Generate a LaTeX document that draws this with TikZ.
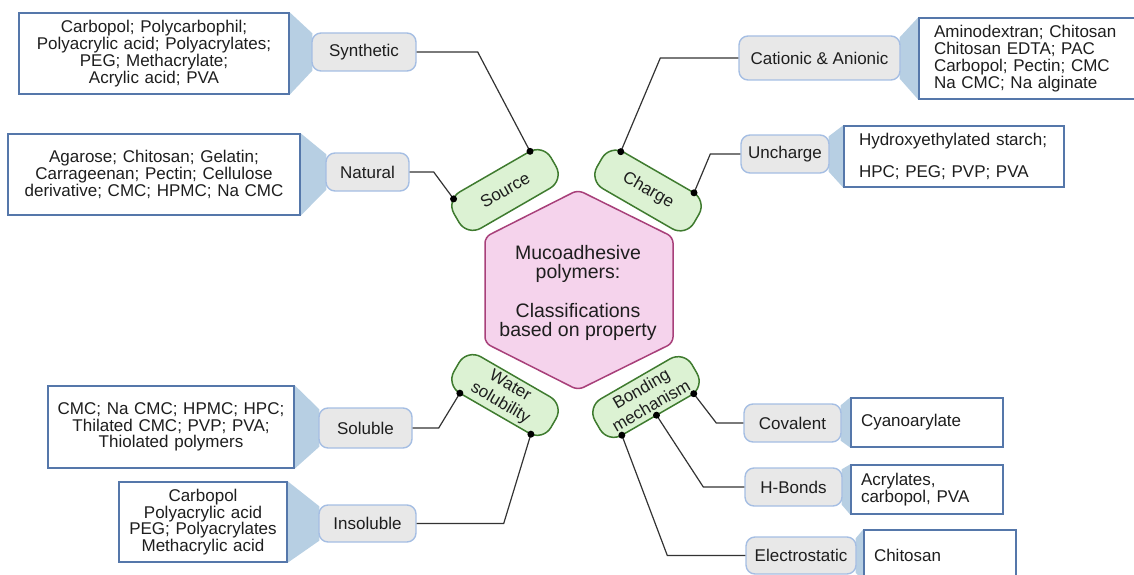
\documentclass[tikz,border=0pt]{standalone}
\usepackage{fontspec}
\setmainfont{Liberation Sans}
\usetikzlibrary{calc,backgrounds}
\definecolor{boxblue}{HTML}{5577AA}
\definecolor{calloutc}{HTML}{B7CFE3}
\definecolor{grayfill}{HTML}{E8E8E8}
\definecolor{grayedge}{HTML}{A5BEE3}
\definecolor{pillfill}{HTML}{DCF2D3}
\definecolor{pilledge}{HTML}{3F7B2F}
\definecolor{hexfill}{HTML}{F5D3EC}
\definecolor{hexedge}{HTML}{A8407A}
\definecolor{linec}{HTML}{333333}
\definecolor{textc}{HTML}{1E1E1E}
\newcommand\lstfont{\fontsize{17}{16.8}\selectfont}
\tikzset{
 every node/.style={text=textc},
 listbox/.style={draw=boxblue, fill=white, line width=1.4pt, inner ysep=0pt, font=\lstfont},
 catbox/.style={draw=grayedge, fill=grayfill, line width=1.4pt, rounded corners=9pt, inner sep=0pt, font=\lstfont},
 pill/.style={draw=pilledge, fill=pillfill, line width=1.5pt, rounded corners=16pt, minimum width=112pt, minimum height=42pt, inner sep=0pt, align=center, font=\fontsize{17}{19.5}\selectfont, transform shape},
 link/.style={draw=linec, line width=1.2pt},
 dot/.style={fill=black, circle, inner sep=0pt, minimum size=7pt},
 callout/.style={fill=calloutc}
}
\begin{document}
\begin{tikzpicture}[x=1pt,y=1pt]
\useasboundingbox (0,0) rectangle (1134,-575);

% hexagon
\draw[fill=hexfill, draw=hexedge, line width=1.5pt, rounded corners=6pt]
  (578,-190) -- (673,-237) -- (673,-343) -- (578,-390) -- (485,-343) -- (485,-237) -- cycle;
\node[align=center, font=\fontsize{19.5}{18.5}\selectfont] (hex) at (578,-293)
  {Mucoadhesive\\polymers:\\[21pt]Classifications\\based on property};

% pills
\begin{scope}[shift={(505,-190)}, rotate=30]
 \node[pill] (src) at (0,0) {Source};
 \coordinate (srcA) at (41,21);
 \coordinate (srcB) at (-49,18);
\end{scope}
\begin{scope}[shift={(648,-190.5)}, rotate=-30]
 \node[pill] (chg) at (0,0) {Charge};
 \coordinate (chgA) at (-43,20);
 \coordinate (chgB) at (41,21);
\end{scope}
\begin{scope}[shift={(505,-395)}, rotate=-30]
 \node[pill] (wat) at (0,0) {Water\\solubility};
 \coordinate (watA) at (-40,-21);
 \coordinate (watB) at (42,-21);
\end{scope}
\begin{scope}[shift={(646,-397)}, rotate=30]
 \node[pill] (bnd) at (0,0) {Bonding\\mechanism};
 \coordinate (bndA) at (43,-21);
 \coordinate (bndB) at (0,-21);
 \coordinate (bndC) at (-40,-21);
\end{scope}

% category boxes
\node[catbox, minimum width=104pt, minimum height=38pt] (syn) at (364,-52) {Synthetic};
\node[catbox, minimum width=83pt, minimum height=38pt] (nat) at (367.5,-172) {Natural};
\node[catbox, minimum width=161pt, minimum height=44pt] (cat) at (819.5,-58) {Cationic \& Anionic};
\node[catbox, minimum width=88pt, minimum height=38pt] (unc) at (785,-154) {Uncharge};
\node[catbox, minimum width=93pt, minimum height=40pt] (sol) at (365.5,-428) {Soluble};
\node[catbox, minimum width=97pt, minimum height=37pt] (ins) at (367.5,-523.5) {Insoluble};
\node[catbox, minimum width=97pt, minimum height=38pt] (cov) at (792.5,-423) {Covalent};
\node[catbox, minimum width=97pt, minimum height=38pt] (hb) at (793.5,-487) {H-Bonds};
\node[catbox, minimum width=110pt, minimum height=37pt] (ele) at (801,-555.5) {Electrostatic};

% list boxes
\node[listbox, inner xsep=4pt, text width=262pt, minimum height=81pt, align=center] (synL) at (154,-53.5)
  {Carbopol; Polycarbophil;\\Polyacrylic acid; Polyacrylates;\\PEG; Methacrylate;\\Acrylic acid; PVA};
\node[listbox, inner xsep=4pt, text width=284pt, minimum height=81pt, align=center] (natL) at (154,-174.5)
  {Agarose; Chitosan; Gelatin;\\Carrageenan; Pectin; Cellulose\\derivative; CMC; HPMC; Na CMC};
\node[listbox, inner xsep=4pt, text width=238pt, minimum height=82pt, align=center] (solL) at (171,-427)
  {\mbox{CMC; Na CMC; HPMC; HPC;}\\\mbox{Thilated CMC; PVP; PVA;}\\Thiolated polymers};
\node[listbox, inner xsep=4pt, text width=160pt, minimum height=80pt, align=center] (insL) at (203,-522)
  {Carbopol\\Polyacrylic acid\\\mbox{PEG; Polyacrylates}\\Methacrylic acid};
\node[listbox, inner xsep=15pt, text width=196pt, minimum height=81pt, align=left] (catL) at (1032,-58.5)
  {\mbox{Aminodextran; Chitosan}\\Chitosan EDTA; PAC\\Carbopol; Pectin; CMC\\Na CMC; Na alginate};
\node[listbox, inner xsep=15pt, text width=190pt, minimum height=61pt, align=left] (uncL) at (954,-156.5)
  {\mbox{Hydroxyethylated starch;}\\[16pt]HPC; PEG; PVP; PVA};
\node[listbox, inner xsep=10pt, text width=132pt, minimum height=49pt, align=left] (covL) at (927,-422.5)
  {Cyanoarylate};
\node[listbox, inner xsep=10pt, text width=132pt, minimum height=49pt, align=left] (hbL) at (927,-489.5)
  {Acrylates,\\carbopol, PVA};
\node[listbox, inner xsep=10pt, text width=132pt, minimum height=50pt, align=left] (eleL) at (940,-555)
  {Chitosan};

% callouts
\begin{scope}[on background layer]
 \fill[callout] (synL.north east) -- ($(syn.north west)+(1,-1)$) -- ($(syn.south west)+(1,1)$) -- (synL.south east) -- cycle;
 \fill[callout] (natL.north east) -- ($(nat.north west)+(1,-2)$) -- ($(nat.south west)+(1,2)$) -- (natL.south east) -- cycle;
 \fill[callout] (solL.north east) -- ($(sol.north west)+(1,-2)$) -- ($(sol.south west)+(1,2)$) -- (solL.south east) -- cycle;
 \fill[callout] (insL.north east) -- ($(ins.north west)+(1,-2)$) -- ($(ins.south west)+(1,2)$) -- (insL.south east) -- cycle;
 \fill[callout] (catL.north west) -- ($(cat.north east)+(-1,-2)$) -- ($(cat.south east)+(-1,2)$) -- (catL.south west) -- cycle;
 \fill[callout] (uncL.north west) -- ($(unc.north east)+(-1,-2)$) -- ($(unc.south east)+(-1,2)$) -- (uncL.south west) -- cycle;
 \fill[callout] (covL.north west) -- ($(cov.north east)+(-1,-2)$) -- ($(cov.south east)+(-1,2)$) -- (covL.south west) -- cycle;
 \fill[callout] (hbL.north west) -- ($(hb.north east)+(-1,-2)$) -- ($(hb.south east)+(-1,2)$) -- (hbL.south west) -- cycle;
 \fill[callout] (eleL.north west) -- ($(ele.north east)+(-1,-2)$) -- ($(ele.south east)+(-1,2)$) -- (eleL.south west) -- cycle;
\end{scope}

% connectors
\draw[link] (syn.east) -- ++(61,0) -- (srcA);
\draw[link] (nat.east) -- ++(24,0) -- (srcB);
\draw[link] (cat.west) -- ++(-78,0) -- (chgA);
\draw[link] (unc.west) -- ++(-30,0) -- (chgB);
\draw[link] (sol.east) -- ++(26,0) -- (watA);
\draw[link] (ins.east) -- ++(87,0) -- (watB);
\draw[link] (cov.west) -- ++(-27,0) -- (bndA);
\draw[link] (hb.west) -- ++(-41,0) -- (bndB);
\draw[link] (ele.west) -- ++(-78,0) -- (bndC);

% dots
\node[dot] (dsrcA) at (srcA) {};
\node[dot] (dsrcB) at (srcB) {};
\node[dot] (dchgA) at (chgA) {};
\node[dot] (dchgB) at (chgB) {};
\node[dot] (dwatA) at (watA) {};
\node[dot] (dwatB) at (watB) {};
\node[dot] (dbndA) at (bndA) {};
\node[dot] (dbndB) at (bndB) {};
\node[dot] (dbndC) at (bndC) {};
\end{tikzpicture}
\end{document}
